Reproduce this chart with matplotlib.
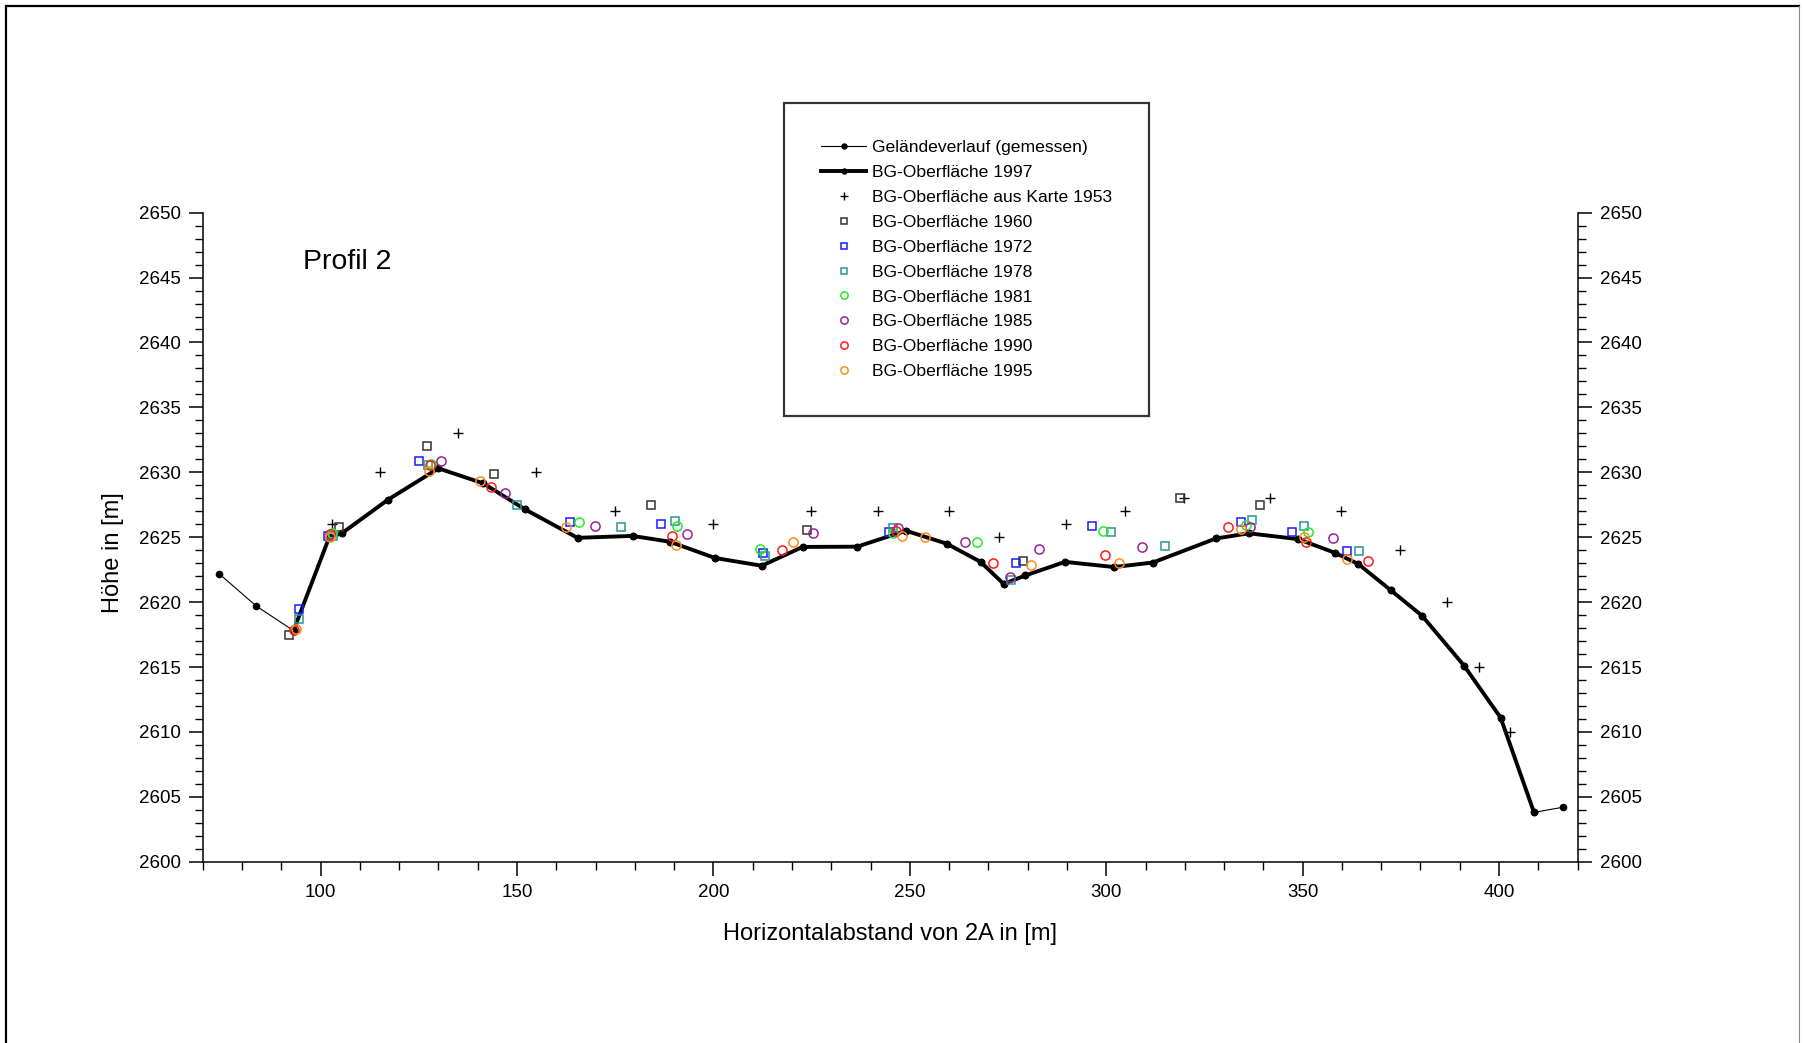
import matplotlib
matplotlib.use("Agg")
import matplotlib.pyplot as plt
from matplotlib.lines import Line2D
from matplotlib.ticker import MultipleLocator

plt.rcParams['font.family'] = ['Liberation Sans', 'DejaVu Sans']

# ---- data ----
gel_left_x = [74.1, 83.6]
gel_left_y = [2622.2, 2619.7]
gel_right_x = [416.3]
gel_right_y = [2604.2]

bg1997_x = [93.1, 102.2, 105.4, 117.2, 130.0, 141.4, 152.0, 165.4, 179.4, 188.9,
            200.4, 212.3, 222.7, 236.6, 249.0, 259.4, 268.0, 273.9, 279.4, 289.5,
            302.0, 311.9, 327.9, 336.3, 348.9, 358.2, 364.1, 372.5, 380.4, 391.1,
            400.4, 408.9]
bg1997_y = [2617.8, 2625.0, 2625.3, 2627.9, 2630.3, 2629.15, 2627.15, 2624.95, 2625.1, 2624.65,
            2623.4, 2622.8, 2624.25, 2624.27, 2625.5, 2624.5, 2623.1, 2621.4, 2622.05, 2623.1,
            2622.7, 2623.05, 2624.9, 2625.3, 2624.85, 2623.8, 2622.95, 2620.9, 2618.95, 2615.1,
            2611.1, 2603.8]

k1953_x = [103.0, 115.0, 134.9, 154.8, 174.9, 200.0, 224.8, 242.0, 260.0, 272.8,
           289.8, 304.9, 319.8, 341.8, 359.7, 374.7, 386.8, 394.8, 402.9]
k1953_y = [2626.0, 2630.0, 2633.0, 2630.0, 2627.0, 2626.0, 2627.0, 2627.0, 2627.0, 2625.0,
           2626.0, 2627.0, 2628.0, 2628.0, 2627.0, 2624.0, 2620.0, 2615.0, 2610.0]

y1960_x = [92.0, 104.8, 127.2, 144.1, 184.0, 223.7, 278.7, 318.7, 339.2]
y1960_y = [2617.5, 2625.8, 2632.0, 2629.85, 2627.5, 2625.55, 2623.15, 2628.05, 2627.45]

y1972_x = [94.4, 102.0, 125.1, 163.4, 186.7, 212.7, 244.8, 277.0, 296.3, 334.2, 347.2, 361.2]
y1972_y = [2619.5, 2625.1, 2630.9, 2626.2, 2626.0, 2623.75, 2625.4, 2623.05, 2625.9, 2626.2, 2625.4, 2623.9]

y1978_x = [94.5, 103.1, 127.4, 150.1, 176.5, 190.3, 213.1, 245.6, 275.7, 301.2, 315.0, 337.2, 350.3, 364.3]
y1978_y = [2618.7, 2625.1, 2630.6, 2627.5, 2625.8, 2626.25, 2623.55, 2625.7, 2621.7, 2625.4, 2624.3, 2626.3, 2625.9, 2623.9]

y1981_x = [103.0, 128.0, 165.9, 190.7, 211.9, 245.6, 267.1, 299.2, 335.7, 351.4]
y1981_y = [2625.35, 2630.65, 2626.2, 2625.9, 2624.1, 2625.3, 2624.6, 2625.5, 2625.95, 2625.4]

y1985_x = [130.6, 147.0, 169.9, 193.3, 225.3, 247.0, 264.1, 275.5, 282.8, 309.0, 336.5, 357.8]
y1985_y = [2630.85, 2628.4, 2625.9, 2625.25, 2625.35, 2625.7, 2624.65, 2621.9, 2624.1, 2624.25, 2625.8, 2624.9]

y1990_x = [93.3, 102.4, 127.9, 143.4, 189.4, 217.4, 246.6, 271.2, 299.7, 331.0, 350.8, 366.7]
y1990_y = [2617.85, 2625.25, 2630.55, 2628.85, 2625.1, 2624.0, 2625.5, 2623.0, 2623.6, 2625.8, 2624.65, 2623.15]

y1995_x = [93.7, 102.4, 127.5, 140.6, 162.5, 190.4, 220.3, 248.1, 253.8, 280.8, 303.3, 334.3, 350.3, 361.2]
y1995_y = [2617.95, 2625.0, 2630.1, 2629.3, 2625.75, 2624.4, 2624.6, 2625.1, 2625.0, 2622.85, 2623.0, 2625.65, 2625.05, 2623.3]

x_ticks = [100, 150, 200, 250, 300, 350, 400]
y_ticks = [2600, 2605, 2610, 2615, 2620, 2625, 2630, 2635, 2640, 2645, 2650]

# ---- figure ----
fig = plt.figure(figsize=(18.04, 10.43), dpi=100)
ax = fig.add_axes([0.1124, 0.1738, 0.7621, 0.6223])

gel_x = gel_left_x + bg1997_x + gel_right_x
gel_y = gel_left_y + bg1997_y + gel_right_y
ax.plot(gel_x, gel_y, color='black', lw=0.8, marker='o', ms=4.5, zorder=3,
        label='Geländeverlauf (gemessen)')
ax.plot(bg1997_x, bg1997_y, color='black', lw=2.8, marker='o', ms=4.5, zorder=4,
        label='BG-Oberfläche 1997')

ax.plot(k1953_x, k1953_y, ls='none', marker='+', ms=6.5, mew=1.0, color='black', zorder=5,
        label='BG-Oberfläche aus Karte 1953')

sq = dict(ls='none', marker='s', ms=5.6, mfc='none', mew=1.1, zorder=5)
ci = dict(ls='none', marker='o', ms=6.6, mfc='none', mew=1.1, zorder=5)
ax.plot(y1960_x, y1960_y, color='#333333', label='BG-Oberfläche 1960', **sq)
ax.plot(y1972_x, y1972_y, color='#1a1aff', label='BG-Oberfläche 1972', **sq)
ax.plot(y1978_x, y1978_y, color='#2a9595', label='BG-Oberfläche 1978', **sq)
ax.plot(y1981_x, y1981_y, color='#22ee22', label='BG-Oberfläche 1981', **ci)
ax.plot(y1985_x, y1985_y, color='#992299', label='BG-Oberfläche 1985', **ci)
ax.plot(y1990_x, y1990_y, color='#ff1a1a', label='BG-Oberfläche 1990', **ci)
ax.plot(y1995_x, y1995_y, color='#ff8c1a', label='BG-Oberfläche 1995', **ci)

ax.set_xlim(70, 420)
ax.set_ylim(2600, 2650)
ax.set_xticks(x_ticks)
ax.set_yticks(y_ticks)
ax.xaxis.set_minor_locator(MultipleLocator(10))
ax.yaxis.set_minor_locator(MultipleLocator(1))

ax.spines['top'].set_visible(False)
for s in ['left', 'right', 'bottom']:
    ax.spines[s].set_linewidth(1.1)

ax.tick_params(axis='both', which='major', direction='out', length=10, width=1.1,
               labelsize=13.5, pad=6)
ax.tick_params(axis='both', which='minor', direction='out', length=5.5, width=1.0)
ax.tick_params(axis='y', which='both', left=True, right=True, labelleft=True, labelright=True)
ax.tick_params(axis='x', which='both', top=False)

ax.set_xlabel('Horizontalabstand von 2A in [m]', fontsize=17)
ax.set_ylabel('Höhe in [m]', fontsize=17)
ax.xaxis.set_label_coords(0.5, -0.095)
ax.yaxis.set_label_coords(-0.057, 0.477)

ax.text(95.5, 2646.2, 'Profil 2', fontsize=20.5, ha='left', va='center')

leg = fig.legend(loc='upper left', bbox_to_anchor=(0.4346, 0.901), fontsize=12.6,
                 frameon=True, fancybox=False, edgecolor='black', borderpad=2.1,
                 handlelength=2.6, handletextpad=0.35, labelspacing=0.55,
                 markerscale=0.8, borderaxespad=0)
leg.get_frame().set_linewidth(1.6)

# figure frame
fig.add_artist(Line2D([0.0032, 0.0032], [-0.01, 0.9945], transform=fig.transFigure,
                      color='black', lw=1.6))
fig.add_artist(Line2D([0.0032, 0.9972], [0.9945, 0.9945], transform=fig.transFigure,
                      color='black', lw=1.6))
fig.add_artist(Line2D([0.9972, 0.9972], [-0.01, 0.9945], transform=fig.transFigure,
                      color='#888888', lw=0.8))

fig.savefig('out.png', dpi=100)
